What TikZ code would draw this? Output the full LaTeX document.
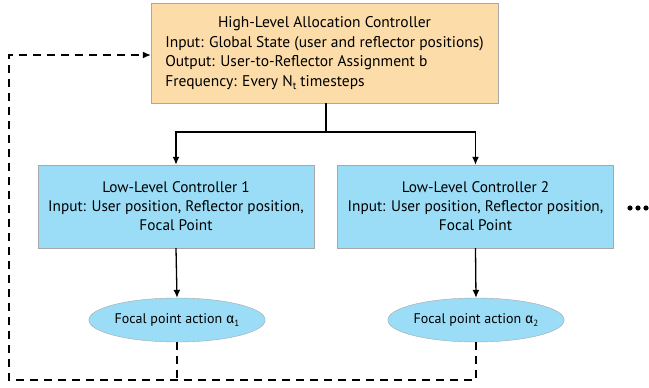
\documentclass[tikz,border=0pt]{standalone}
\usepackage{fontspec}
\setmainfont{PT Sans}
\newfontfamily\grk{Fira Sans}
\usetikzlibrary{arrows.meta,shapes.geometric}
\definecolor{peach}{HTML}{FCDCA8}
\definecolor{skyb}{HTML}{9BDDF6}
\definecolor{edgeg}{HTML}{A8A8A8}
\begin{document}
\begin{tikzpicture}[x=1pt,y=-1pt,
  hlbox/.style={draw=edgeg,fill=peach,minimum width=347pt,minimum height=100pt,inner sep=0pt,font=\fontsize{15.5}{19.6}\selectfont},
  llbox/.style={draw=edgeg,fill=skyb,minimum width=276pt,minimum height=83pt,inner sep=0pt,align=center,font=\fontsize{15.3}{19}\selectfont},
  act/.style={ellipse,draw=edgeg,fill=skyb,minimum width=170pt,minimum height=44pt,inner sep=0pt,font=\fontsize{14}{17}\selectfont},
  conn/.style={line width=1.3pt,-{Latex[length=8pt,width=7pt]}},
  fb/.style={line width=1.2pt,dash pattern=on 8pt off 6pt}]
\useasboundingbox (0,0) rectangle (649,388);
\node[hlbox] (hl) at (324.5,53) {\begin{tabular}{@{}l@{}}\multicolumn{1}{@{}c@{}}{High-Level Allocation Controller}\\
Input: Global State (user and reflector positions)\\
Output: User-to-Reflector Assignment b\\
Frequency: Every N\raisebox{-0.35ex}{\fontsize{10.5}{10}\selectfont t} timesteps\end{tabular}};
\node[llbox] (l1) at (176,206.5) {Low-Level Controller 1\\Input: User position, Reflector position,\\Focal Point};
\node[llbox] (l2) at (475.5,206.5) {Low-Level Controller 2\\Input: User position, Reflector position,\\Focal Point};
\node[act] (e1) at (177,320) {Focal point action {\grk α}\raisebox{-0.35ex}{\fontsize{9}{9}\selectfont 1}};
\node[act] (e2) at (476,320) {Focal point action {\grk α}\raisebox{-0.35ex}{\fontsize{9}{9}\selectfont 2}};
\foreach \i/\xx in {1/630,2/638,3/646}{\fill (\xx,208) circle (2.6pt);}
\coordinate (j) at (326,132);
\coordinate (c1) at (9,380);
\coordinate (c2) at (9,55);
\draw[line width=1.3pt] (hl.south -| j) -- (j);
\draw[conn] (j) -| (l1.north);
\draw[conn] (j) -| (l2.north);
\draw[conn] (l1.south) -- (e1.north);
\draw[conn] (l2.south) -- (e2.north);
\draw[fb] (e1.south) -- (e1.south |- c1);
\draw[fb,-{Latex[length=8pt,width=7pt]}] (e2.south) |- (c1) -- (c2) -- (c2 -| hl.west);
\end{tikzpicture}
\end{document}
